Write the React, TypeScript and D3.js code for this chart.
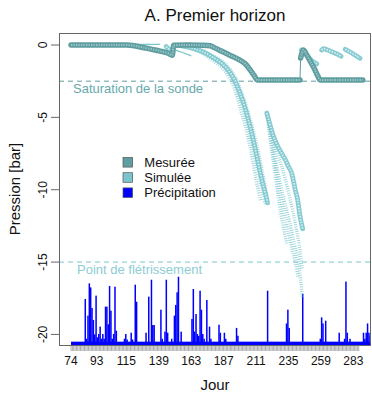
import React from "react";
import * as d3 from "d3";

// ---------- data ----------
const title = "A. Premier horizon";
const xLabel = "Jour";
const yLabel = "Pression [bar]";
const xTickDays = [74, 93, 115, 139, 163, 187, 211, 235, 259, 283];
const yTicks = [0, -5, -10, -15, -20];
const combFirstDay = 74;
const combLastDay = 287;
const saturationLevel = -2.5;
const wiltingLevel = -15;
const saturationLabel = "Saturation de la sonde";
const wiltingLabel = "Point de flétrissement";
const legendLabels = ["Mesurée", "Simulée", "Précipitation"];

// measured pressure [day, bar]
const measuredA: [number, number][] = [
  [74, 0], [95, 0], [115, 0], [121, -0.05], [127, -0.17], [134, -0.3], [140, -0.42],
  [146, -0.57], [149, -0.7], [150, -0.02], [160, 0], [170, -0.02], [177, -0.05],
  [180, -0.18], [186, -0.45], [192, -0.72], [198, -1.0], [203, -1.3], [206.5, -1.7],
  [209.5, -2.1], [212, -2.42], [243.5, -2.42],
];
const measuredB: [number, number][] = [
  [244, -0.9], [245, -0.55], [246, -0.35], [248, -0.6], [251, -1.1], [254, -1.6],
  [256.5, -2.1], [258.5, -2.42], [290, -2.42],
];

// simulated pressure segments [day, bar]
const simEarly: [number, number][] = [[74, 0.02], [115, 0.03], [140, 0.05]];
const simSpring1: [number, number][] = [[144.5, -0.1], [146, -0.25], [148, -0.35]];
const simSpring2: [number, number][] = [[150, -0.3], [156, -0.5], [163, -0.75]];
const simSummerA1: [number, number][] = [
  [153, 0], [162, -0.2], [170, -0.5], [178, -1.0], [185, -1.5], [190, -2.1], [194, -2.8],
  [197, -3.6], [200, -4.6], [203, -5.6], [206, -6.8], [208.5, -8.0], [211, -9.3],
  [213, -10.2], [214.5, -10.8],
];
const simSummerA2: [number, number][] = [
  [153, 0], [162, -0.15], [170, -0.42], [178, -0.85], [185, -1.3], [190, -1.8], [194, -2.4],
  [198, -3.3], [201.5, -4.3], [205, -5.5], [208, -6.7], [211, -8.0], [214, -9.4],
  [216.5, -10.5], [218, -11.0],
];
const simSummerA3: [number, number][] = [
  [155, -0.05], [163, -0.2], [171, -0.45], [179, -0.85], [186, -1.3], [191, -1.8],
  [195, -2.4], [199, -3.3], [203, -4.4], [206.5, -5.6], [209.5, -6.8], [212.5, -8.1],
  [215.5, -9.4], [218, -10.3], [219.5, -10.9],
];
const simSummerA4: [number, number][] = [
  [156, -0.05], [164, -0.18], [172, -0.4], [180, -0.8], [187, -1.2], [192, -1.7],
  [196, -2.3], [200, -3.2], [204, -4.3], [208, -5.6], [211.5, -6.9], [214.5, -8.2],
  [217, -9.4], [219, -10.4],
];
const simSummerB1: [number, number][] = [
  [219, -4.7], [221.5, -6.6], [224, -8.2], [227.7, -10.7], [231, -12.5], [234, -13.8],
];
const simSummerB2: [number, number][] = [
  [219, -4.7], [223, -6.5], [227.4, -8.9], [232, -10.8], [236, -12.3], [239.5, -13.8],
  [242.2, -14.9], [244, -16.2], [245.3, -17.5],
];
const simSummerB3: [number, number][] = [
  [219, -4.7], [221, -5.4], [223.5, -6.2], [227, -7.0], [230, -7.5], [232.5, -7.9],
  [235, -8.4], [237.5, -8.9], [240, -10.0], [242, -10.8], [243.5, -11.8], [245.5, -12.7],
];
const simSummerB4: [number, number][] = [
  [219, -4.7], [222, -6.5], [225.5, -8.5], [229.5, -10.6], [233, -12.2], [237, -13.8],
  [240, -15.0], [242, -16.0],
];
const simSummerB5: [number, number][] = [
  [219, -4.7], [222.5, -6.0], [226, -7.2], [230, -8.4], [234, -9.8], [238, -11.4],
  [241, -12.8], [243.5, -14.2], [245, -15.5],
];
const simAutumn1: [number, number][] = [
  [244.5, -0.35], [246, -0.45], [249, -0.75], [252, -1.05], [256, -1.3],
];
const simAutumn2: [number, number][] = [
  [259.5, -0.35], [261, -0.25], [264, -0.35], [268, -0.5], [271, -0.62], [274, -0.78],
];
const simAutumn3: [number, number][] = [
  [277, -0.3], [280, -0.45], [283, -0.62], [286, -0.8], [288, -0.92],
];

// precipitation [mm]
const rainFirstDay = 74;
const rainLastDay = 295;
const rainDays = [
  84, 85, 86, 87, 88, 89, 90, 91, 92, 93, 94, 95, 96, 97, 98, 99, 100, 101, 102, 103, 104,
  105, 106, 107, 113, 114, 115, 118, 119, 121, 122, 129, 131, 133, 134, 135, 140, 141, 143,
  144, 145, 148, 150, 151, 152, 153, 155, 163, 164, 165, 166, 167, 168, 169, 170, 171, 172,
  174, 176, 177, 183, 184, 187, 188, 196, 197, 219, 233, 234, 235, 245, 258, 259, 260, 262,
  272, 276, 277, 278, 280, 290, 291, 292, 293, 294, 295,
];
const rainMm = [
  29.5, 2, 18, 40.3, 37.5, 23.3, 15, 5, 31.8, 3, 5.3, 10.4, 2, 5.3, 2, 24.2, 24.2, 12, 38.5, 21.4, 2,
  5.3, 38, 7.6, 2, 5.3, 1.5, 6.2, 1.5, 39.4, 27.6, 6.2, 31.1, 42.8, 11.5, 11.5, 22.1, 2, 6.9,
  42.8, 6.2, 2, 18, 25.4, 34.1, 44.9, 6.9, 15.7, 36.4, 7, 19.1, 5.3, 4, 35.2, 22.1, 5.3, 2,
  28.8, 10.4, 2, 11.7, 6.2, 6.2, 2, 9.5, 4.1, 35.2, 12.6, 22.1, 9.5, 33, 2, 16.8, 12.6, 14.5,
  6.2, 2, 41.5, 6.2, 2, 6.2, 2, 6.2, 12.6, 6.2, 4.1,
];
const rainBaseLevel = -20.5;
const rainBarPerMm = 0.1;

// ---------- styles ----------
const W = 372;
const H = 393;
const plot = { left: 59, top: 33, right: 371, bottom: 346 };
const colMeasured = "#5F9EA0";
const colSim = "#7AC5CD";
const colRain = "#0000FF";
const font = "'Liberation Sans', Arial, Helvetica, sans-serif";

type Seg = { data: [number, number][]; kind: "thin" | "dash" | "ring" };
const simSegments: Seg[] = [
  { data: simEarly, kind: "thin" },
  { data: simSpring1, kind: "ring" },
  { data: simSpring2, kind: "thin" },
  { data: simSummerA1, kind: "dash" },
  { data: simSummerA2, kind: "dash" },
  { data: simSummerA4, kind: "dash" },
  { data: simSummerA3, kind: "ring" },
  { data: simSummerB1, kind: "dash" },
  { data: simSummerB4, kind: "dash" },
  { data: simSummerB2, kind: "dash" },
  { data: simSummerB5, kind: "dash" },
  { data: simSummerB3, kind: "ring" },
  { data: simAutumn1, kind: "ring" },
  { data: simAutumn2, kind: "ring" },
  { data: simAutumn3, kind: "ring" },
];

export default function App() {
  const x = d3.scaleLinear().domain([65.1, 296.1]).range([plot.left, plot.right]);
  const y = d3.scaleLinear().domain([-20.8, 0.83]).range([plot.bottom, plot.top]);
  const line = d3
    .line<[number, number]>()
    .x((d) => x(d[0]))
    .y((d) => y(d[1]))
    .curve(d3.curveMonotoneX);
  const straight = d3
    .line<[number, number]>()
    .x((d) => x(d[0]))
    .y((d) => y(d[1]));

  const rainMap = new Map<number, number>();
  rainDays.forEach((d, i) => rainMap.set(d, rainMm[i]));
  const allRainDays = d3.range(rainFirstDay, rainLastDay + 1);
  const combDays = d3.range(combFirstDay, combLastDay + 1);
  const dayW = x(1) - x(0);
  const measuredAll = measuredA.concat(measuredB);

  return (
    <svg
      width={W}
      height={H}
      style={{ position: "absolute", left: 0, top: 0, background: "#fff" }}
      fontFamily={font}
    >
      <defs>
        <clipPath id="plotclip">
          <rect x={plot.left} y={plot.top} width={plot.right - plot.left} height={plot.bottom - plot.top} />
        </clipPath>
      </defs>
      <rect x={0} y={0} width={W} height={H} fill="#fff" />

      <g clipPath="url(#plotclip)">
        {/* reference lines */}
        <line x1={plot.left} x2={plot.right} y1={y(saturationLevel)} y2={y(saturationLevel)}
          stroke={colMeasured} strokeWidth={1} strokeDasharray="5 4" />
        <line x1={plot.left} x2={plot.right} y1={y(wiltingLevel)} y2={y(wiltingLevel)}
          stroke={colSim} strokeWidth={1} strokeDasharray="5 4" />

        {/* precipitation */}
        <rect x={x(rainFirstDay)} y={y(rainBaseLevel)} width={x(rainLastDay + 1) - x(rainFirstDay)}
          height={plot.bottom - y(rainBaseLevel)} fill={colRain} />
        {allRainDays.filter((d) => rainMap.has(d)).map((d) => {
          const top = y(rainBaseLevel + (rainMap.get(d) as number) * rainBarPerMm);
          return (
            <rect key={d} x={x(d)} y={top} width={Math.max(dayW, 1.5)} height={plot.bottom - top} fill={colRain} />
          );
        })}

        {/* simulated */}
        {simSegments.map((s, i) => {
          const dpath = line(s.data) || "";
          if (s.kind === "thin")
            return <path key={i} d={dpath} fill="none" stroke={colSim} strokeWidth={1.3} />;
          if (s.kind === "dash")
            return (
              <path key={i} d={dpath} fill="none" stroke={colSim} strokeWidth={3.4}
                strokeDasharray="0.9 1.4" opacity={0.75} />
            );
          return (
            <g key={i}>
              <path d={dpath} fill="none" stroke={colSim} strokeWidth={4.8} strokeLinecap="round" opacity={0.9} />
              <path d={dpath} fill="none" stroke="#fff" strokeWidth={1.8} strokeDasharray="1.4 1.4" opacity={0.7} />
            </g>
          );
        })}

        {/* measured */}
        <path d={straight(measuredAll) || ""} fill="none" stroke={colMeasured} strokeWidth={1} />
        {[measuredA, measuredB].map((seg, i) => (
          <g key={i}>
            <path d={line(seg) || ""} fill="none" stroke={colMeasured} strokeWidth={5.5}
              strokeLinecap="round" strokeLinejoin="round" />
            <path d={line(seg) || ""} fill="none" stroke="#9CC6C8" strokeWidth={2}
              strokeDasharray="1.3 1.2" />
          </g>
        ))}

        {/* annotations */}
        <text x={73} y={93} fontSize={13} fill="#66A9AC">{saturationLabel}</text>
        <text x={77} y={274} fontSize={13} fill="#8CCDD4">{wiltingLabel}</text>
      </g>

      {/* box */}
      <rect x={plot.left + 0.5} y={plot.top + 0.5} width={plot.right - plot.left - 1}
        height={plot.bottom - plot.top - 1} fill="none" stroke="#666" strokeWidth={1} />

      {/* y axis */}
      {yTicks.map((t) => (
        <g key={t}>
          <line x1={plot.left - 8} x2={plot.left} y1={y(t)} y2={y(t)} stroke="#666" strokeWidth={1} />
          <text transform={`translate(47,${y(t)}) rotate(-90)`} textAnchor="middle" fontSize={12} fill="#111">
            {t}
          </text>
        </g>
      ))}
      <text transform={`translate(20,189) rotate(-90)`} textAnchor="middle" fontSize={15} fill="#111">
        {yLabel}
      </text>

      {/* x axis comb */}
      {combDays.map((d) => (
        <line key={d} x1={x(d)} x2={x(d)} y1={plot.bottom} y2={plot.bottom + 5} stroke="#888" strokeWidth={0.7} />
      ))}
      {xTickDays.map((d) => (
        <text key={d} x={x(d)} y={365} textAnchor="middle" fontSize={12} fill="#111">
          {d}
        </text>
      ))}
      <text x={(plot.left + plot.right) / 2} y={390} textAnchor="middle" fontSize={15} fill="#111">
        {xLabel}
      </text>

      {/* title */}
      <text x={(plot.left + plot.right) / 2} y={21} textAnchor="middle" fontSize={17} fill="#111">
        {title}
      </text>

      {/* legend */}
      {legendLabels.map((lab, i) => {
        const cy = 162.3 + i * 15.2;
        const fill = [colMeasured, colSim, colRain][i];
        return (
          <g key={lab}>
            <rect x={123} y={cy - 4.8} width={9.6} height={9.6} fill={fill} stroke="#555" strokeWidth={0.7} />
            <text x={144.3} y={cy + 4.6} fontSize={13} fill="#111">{lab}</text>
          </g>
        );
      })}
    </svg>
  );
}
